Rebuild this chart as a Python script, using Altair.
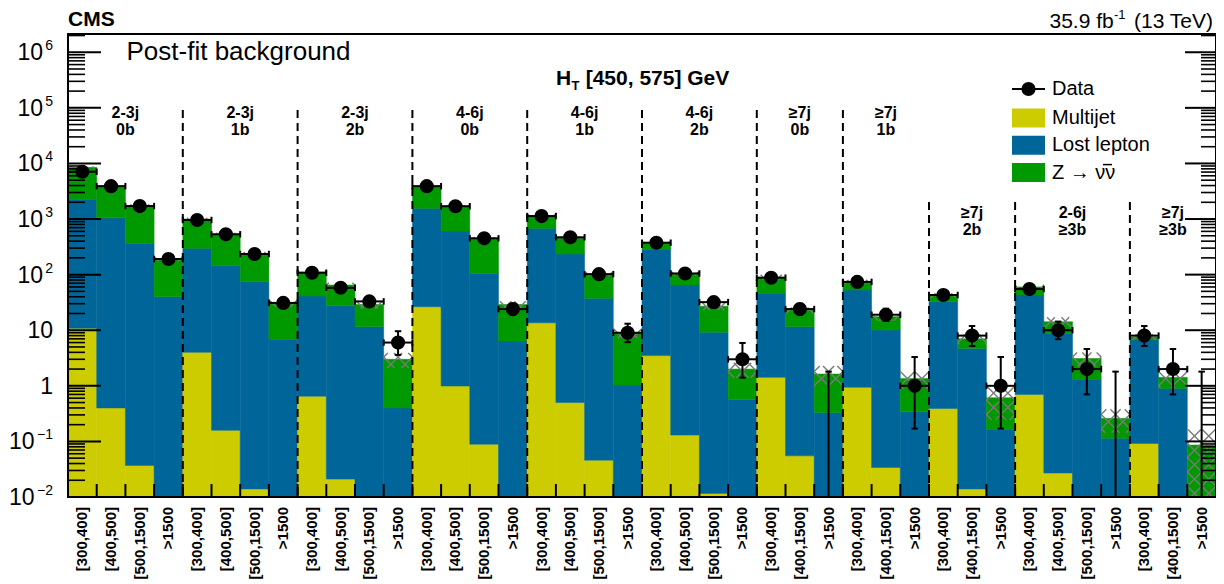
import math
import altair as alt
import pandas as pd

# ---------------- data ----------------
region_jets = ["2-3j", "2-3j", "2-3j", "4-6j", "4-6j", "4-6j", "≥7j", "≥7j", "≥7j", "2-6j", "≥7j"]
region_btags = ["0b", "1b", "2b", "0b", "1b", "2b", "0b", "1b", "2b", "≥3b", "≥3b"]
region_nbins = [4, 4, 4, 4, 4, 4, 3, 3, 3, 4, 3]

bin_labels = [
    "[300,400]", "[400,500]", "[500,1500]", ">1500",
    "[300,400]", "[400,500]", "[500,1500]", ">1500",
    "[300,400]", "[400,500]", "[500,1500]", ">1500",
    "[300,400]", "[400,500]", "[500,1500]", ">1500",
    "[300,400]", "[400,500]", "[500,1500]", ">1500",
    "[300,400]", "[400,500]", "[500,1500]", ">1500",
    "[300,400]", "[400,1500]", ">1500",
    "[300,400]", "[400,1500]", ">1500",
    "[300,400]", "[400,1500]", ">1500",
    "[300,400]", "[400,500]", "[500,1500]", ">1500",
    "[300,400]", "[400,1500]", ">1500",
]

multijet = [10.8, 0.40, 0.037, 0, 4.0, 0.158, 0.014, 0, 0.65, 0.021, 0, 0,
            26.5, 0.99, 0.089, 0, 13.6, 0.50, 0.046, 0, 3.5, 0.13, 0.0116, 0,
            1.42, 0.055, 0, 0.94, 0.034, 0, 0.39, 0.014, 0,
            0.70, 0.027, 0, 0, 0.092, 0, 0]
lost_lepton = [2250, 1050, 366, 40, 293, 145, 74.5, 6.9, 40.4, 27.6, 11.6, 0.40,
               1530, 607, 105, 6.4, 666, 234.5, 37.5, 1.03, 281.5, 64.9, 9.2, 0.57,
               44.6, 11.5, 0.33, 51.9, 10.07, 0.34, 32.2, 4.69, 0.165,
               42.3, 8.77, 1.31, 0.114, 6.6, 0.90, 0]
znunu = [6240, 2900, 1384, 150, 703, 395, 165.5, 24.1, 71, 37.4, 17.4, 2.6,
         2343, 1092, 345, 22.6, 470, 225, 64.5, 7.97, 95, 40, 17.8, 1.43,
         44, 11.4, 1.3, 22.2, 7.4, 1.02, 9.4, 2.3, 0.445,
         17, 5.4, 1.79, 0.146, 0.9, 0.52, 0.086]
# relative post-fit uncertainty of the total background (hatched band)
bkg_unc_rel = [0.04, 0.04, 0.05, 0.08, 0.05, 0.05, 0.06, 0.15, 0.08, 0.10, 0.15, 0.30,
               0.04, 0.04, 0.05, 0.15, 0.05, 0.05, 0.08, 0.20, 0.05, 0.08, 0.15, 0.30,
               0.10, 0.12, 0.40, 0.08, 0.15, 0.35, 0.10, 0.20, 0.60,
               0.10, 0.20, 0.28, 0.45, 0.12, 0.35, 0.90]
data_obs = [7100, 3900, 1710, 191, 960, 531, 235, 31, 108, 58, 33, 6,
            3900, 1700, 450, 24, 1130, 469, 102, 9, 375, 105, 32, 3,
            88, 24, 0, 74, 19, 1, 43, 8, 1,
            55, 10, 2, 0, 8, 2, 0]
err_dn = [84, 62, 41, 14, 31, 23, 15, 5.5, 10.4, 7.6, 5.7, 2.4,
          62, 41, 21, 4.9, 34, 22, 10, 2.9, 19, 10, 5.6, 1.6,
          9.4, 4.9, 0, 8.6, 4.3, 0.83, 6.5, 2.8, 0.83,
          7.4, 3.1, 1.3, 0, 2.8, 1.3, 0]
err_up = [85, 63, 42, 15, 32, 24, 16, 6.6, 11.4, 8.7, 6.8, 3.6,
          63, 42, 22, 5.9, 35, 23, 11, 4.1, 20, 11, 6.7, 2.9,
          10.4, 5.9, 1.8, 9.6, 5.4, 2.3, 7.6, 3.9, 2.3,
          8.5, 4.3, 2.6, 1.8, 3.9, 2.6, 1.8]

comp_names = ["Multijet", "Lost lepton", "Z → νν"]
comp_colors = ["#cccc00", "#006699", "#009900"]

y_exp_values = [1e6, 1e5, 1e4, 1e3, 1e2, 1e-1, 1e-2]
y_exp_text = ["6", "5", "4", "3", "2", "−1", "−2"]
y_plain_values = [10, 1]
y_plain_text = ["10", "1"]

# ---------------- layout ----------------
W, H = 1148, 463
FONT = "Liberation Sans"
YMIN, YMAX = 0.01, 2.13e6
BASE = 1e-3
NB = len(bin_labels)

xs = alt.Scale(domain=[0, NB], nice=False, zero=False)
ys = alt.Scale(type="log", domain=[YMIN, YMAX], nice=False)


def X(f):
    return alt.X(f + ":Q", scale=xs, axis=None)


def Y(f):
    return alt.Y(f + ":Q", scale=ys, axis=None)


one = pd.DataFrame({"a": [0]})

# stacked background
rows = []
totals = []
for i in range(NB):
    t1 = multijet[i]
    t2 = t1 + lost_lepton[i]
    t3 = t2 + znunu[i]
    totals.append(t3)
    if multijet[i] > 0:
        rows.append(dict(x0=i, x1=i + 1, comp=comp_names[0], lo=BASE, hi=t1))
    if lost_lepton[i] > 0:
        rows.append(dict(x0=i, x1=i + 1, comp=comp_names[1], lo=max(t1, BASE), hi=t2))
    if znunu[i] > 0:
        rows.append(dict(x0=i, x1=i + 1, comp=comp_names[2], lo=max(t2, BASE), hi=t3))
stack = pd.DataFrame(rows)

bars = alt.Chart(stack).mark_rect(clip=True, strokeWidth=0.5).encode(
    x=X("x0"), x2="x1:Q", y=Y("lo"), y2="hi:Q",
    fill=alt.Fill("comp:N", scale=alt.Scale(domain=comp_names, range=comp_colors), legend=None),
    stroke=alt.Stroke("comp:N", scale=alt.Scale(domain=comp_names, range=comp_colors), legend=None),
)

# hatched uncertainty band (cross-hatch drawn as 45-degree segments in pixel space)
ppb = W / NB
ppd = H / math.log10(YMAX / YMIN)
umin = math.log10(YMIN) * ppd
step = ppb / 2
segs = []
for i in range(NB):
    r = bkg_unc_rel[i]
    lo_v = totals[i] * (1 - r)
    hi_v = totals[i] * (1 + r)
    ul = max(math.log10(lo_v) * ppd, umin) if lo_v > 0 else umin
    uh = math.log10(hi_v) * ppd
    a, b = i * ppb, (i + 1) * ppb
    for sgn in (1, -1):
        if sgn == 1:
            cmin, cmax = ul - b, uh - a
        else:
            cmin, cmax = ul + a, uh + b
        for k in range(math.ceil(cmin / step), math.floor(cmax / step) + 1):
            c = k * step
            if sgn == 1:
                x1, x2 = max(a, ul - c), min(b, uh - c)
            else:
                x1, x2 = max(a, c - uh), min(b, c - ul)
            if x2 - x1 > 0.3:
                segs.append(dict(hx1=x1 / ppb, hx2=x2 / ppb,
                                 hy1=10 ** ((sgn * x1 + c) / ppd), hy2=10 ** ((sgn * x2 + c) / ppd)))
hatch = alt.Chart(pd.DataFrame(segs)).mark_rule(color="#7a7a7a", strokeWidth=1.4, clip=True).encode(
    x=X("hx1"), x2="hx2:Q", y=Y("hy1"), y2="hy2:Q")

# data points
pts = pd.DataFrame({
    "xc": [i + 0.5 for i in range(NB)],
    "x0": list(range(NB)),
    "x1": [i + 1 for i in range(NB)],
    "n": data_obs,
    "lo": [max(d - e, BASE) for d, e in zip(data_obs, err_dn)],
    "hi": [d + e for d, e in zip(data_obs, err_up)],
})
nz = pts[pts["n"] > 0]

vbar = alt.Chart(pts).mark_rule(color="black", strokeWidth=2, clip=True).encode(
    x=X("xc"), y=Y("lo"), y2="hi:Q")
hbar = alt.Chart(nz).mark_rule(color="black", strokeWidth=2).encode(
    x=X("x0"), x2="x1:Q", y=Y("n"))
cap_style = dict(filled=False, color="black", strokeWidth=2, opacity=1, size=42)
cap_top = alt.Chart(pts).mark_point(shape="M-1,0L1,0", **cap_style).encode(x=X("xc"), y=Y("hi"))
cap_bot = alt.Chart(nz).mark_point(shape="M-1,0L1,0", **cap_style).encode(x=X("xc"), y=Y("lo"))
cap_l = alt.Chart(nz).mark_point(shape="M0,-1L0,1", **cap_style).encode(x=X("x0"), y=Y("n"))
cap_r = alt.Chart(nz).mark_point(shape="M0,-1L0,1", **cap_style).encode(x=X("x1"), y=Y("n"))
dots = alt.Chart(nz).mark_circle(size=200, color="black", opacity=1).encode(x=X("xc"), y=Y("n"))

# region dividers and labels
bounds, starts, s = [], [], 0
for n in region_nbins:
    starts.append(s)
    s += n
    bounds.append(s)
upper_idx = list(range(8))
div_df = pd.DataFrame({"b": bounds[:-1], "upper": [(k + 1) in upper_idx for k in range(len(bounds) - 1)]})
div_up = alt.Chart(div_df[div_df.upper]).mark_rule(color="black", strokeWidth=2, strokeDash=[8, 5]).encode(
    x=X("b"), y=alt.value(76), y2=alt.value(H))
div_lo = alt.Chart(div_df[~div_df.upper]).mark_rule(color="black", strokeWidth=2, strokeDash=[8, 5]).encode(
    x=X("b"), y=alt.value(168), y2=alt.value(H))

reg_df = pd.DataFrame({
    "xc": [st + n / 2 for st, n in zip(starts, region_nbins)],
    "l1": region_jets, "l2": region_btags,
    "upper": [k in upper_idx for k in range(len(region_nbins))],
})
reg_text = dict(font=FONT, fontSize=16, fontWeight="bold", color="black", align="center", baseline="middle")
reg_layers = []
for flag, y1, y2 in [(True, 78.5, 96), (False, 178.5, 196)]:
    d = reg_df[reg_df.upper == flag]
    reg_layers.append(alt.Chart(d).mark_text(**reg_text).encode(x=X("xc"), y=alt.value(y1), text="l1:N"))
    reg_layers.append(alt.Chart(d).mark_text(**reg_text).encode(x=X("xc"), y=alt.value(y2), text="l2:N"))

# x bin labels
xl_df = pd.DataFrame({"xc": [i + 0.5 for i in range(NB)], "lab": bin_labels})
xlabels = alt.Chart(xl_df).mark_text(font=FONT, fontSize=15, fontWeight="bold", angle=270,
                                      align="right", baseline="middle", color="black").encode(
    x=X("xc"), y=alt.value(H + 10), text="lab:N")

# axis ticks
dec_df = pd.DataFrame({"v": [10.0 ** e for e in range(-2, 7)]})
minor_df = pd.DataFrame({"v": [m * 10.0 ** e for e in range(-2, 7) for m in range(2, 10) if m * 10.0 ** e < YMAX]})
edge_df = pd.DataFrame({"e": list(range(1, NB))})
tick_layers = [
    alt.Chart(dec_df).mark_rule(color="black", strokeWidth=2).encode(y=Y("v"), x=alt.value(0), x2=alt.value(33)),
    alt.Chart(minor_df).mark_rule(color="black", strokeWidth=1.6).encode(y=Y("v"), x=alt.value(0), x2=alt.value(17)),
    alt.Chart(dec_df).mark_rule(color="black", strokeWidth=2).encode(y=Y("v"), x=alt.value(W - 31), x2=alt.value(W)),
    alt.Chart(minor_df).mark_rule(color="black", strokeWidth=1.6).encode(y=Y("v"), x=alt.value(W - 15), x2=alt.value(W)),
    alt.Chart(edge_df).mark_rule(color="black", strokeWidth=2).encode(x=X("e"), y=alt.value(H - 13), y2=alt.value(H)),
]

# y tick labels
ye_df = pd.DataFrame({"v": y_exp_values, "e": y_exp_text, "neg": [t.startswith("−") for t in y_exp_text]})
yp_df = pd.DataFrame({"v": y_plain_values, "t": y_plain_text})
lab = dict(font=FONT, color="black", baseline="middle", align="right")
ylab_layers = [
    alt.Chart(ye_df).mark_text(fontSize=14, dy=-6, **lab).encode(y=Y("v"), x=alt.value(-15), text="e:N"),
    alt.Chart(ye_df[~ye_df.neg]).mark_text(fontSize=23, dy=1, **lab).encode(y=Y("v"), x=alt.value(-25), text=alt.value("10")),
    alt.Chart(ye_df[ye_df.neg]).mark_text(fontSize=23, dy=1, **lab).encode(y=Y("v"), x=alt.value(-33.5), text=alt.value("10")),
    alt.Chart(yp_df).mark_text(fontSize=23, dy=1, **lab).encode(y=Y("v"), x=alt.value(-15), text="t:N"),
]

# frame
frame = alt.Chart(one).mark_rect(fillOpacity=0, stroke="black", strokeWidth=2).encode(
    x=alt.value(0), x2=alt.value(W), y=alt.value(0), y2=alt.value(H))

# legend (drawn by hand to mimic ROOT style)
LX0, LX1, LTX = 944, 977, 984
leg_layers = [
    alt.Chart(one).mark_rule(color="black", strokeWidth=2).encode(
        x=alt.value(LX0), x2=alt.value(LX1), y=alt.value(55)),
    alt.Chart(one).mark_circle(size=200, color="black", opacity=1).encode(
        x=alt.value((LX0 + LX1) / 2), y=alt.value(55)),
    alt.Chart(one).mark_text(font=FONT, fontSize=20, align="left", baseline="middle", color="black").encode(
        x=alt.value(LTX), y=alt.value(55), text=alt.value("Data")),
]
for k, (name, col) in enumerate(zip(comp_names, comp_colors)):
    yc = 84 + k * 27.3
    leg_layers.append(alt.Chart(one).mark_rect(color=col).encode(
        x=alt.value(LX0), x2=alt.value(LX1), y=alt.value(yc - 9.5), y2=alt.value(yc + 9.5)))
    leg_layers.append(alt.Chart(one).mark_text(font=FONT, fontSize=20, align="left", baseline="middle",
                                               color="black").encode(
        x=alt.value(LTX), y=alt.value(yc), text=alt.value(name)))
# bar over the second nu (anti-neutrino)
yz = 84 + 2 * 27.3
leg_layers.append(alt.Chart(one).mark_rule(color="black", strokeWidth=1.5).encode(
    x=alt.value(LTX + 51), x2=alt.value(LTX + 60), y=alt.value(yz - 8)))

# annotations
ann = [
    alt.Chart(one).mark_text(font=FONT, fontSize=21, fontWeight="bold", align="left", baseline="middle",
                             color="black").encode(x=alt.value(0), y=alt.value(-14), text=alt.value("CMS")),
    alt.Chart(one).mark_text(font=FONT, fontSize=26, align="left", baseline="middle", color="black").encode(
        x=alt.value(58.5), y=alt.value(18), text=alt.value("Post-fit background")),
]
lumi_style = dict(font=FONT, align="right", baseline="middle", color="black")
ann += [
    alt.Chart(one).mark_text(fontSize=21, **lumi_style).encode(
        x=alt.value(W - 3), y=alt.value(-12.5), text=alt.value("(13 TeV)")),
    alt.Chart(one).mark_text(fontSize=13, **lumi_style).encode(
        x=alt.value(W - 3 - 81.7 - 5.8), y=alt.value(-19), text=alt.value("-1")),
    alt.Chart(one).mark_text(fontSize=21, **lumi_style).encode(
        x=alt.value(W - 3 - 81.7 - 5.8 - 11.8), y=alt.value(-12.5), text=alt.value("35.9 fb")),
]
ht_df = pd.DataFrame({"xc": [NB / 2]})
ht_style = dict(font=FONT, fontWeight="bold", align="left", baseline="middle", color="black")
ann += [
    alt.Chart(ht_df).mark_text(fontSize=21, dx=-86, **ht_style).encode(x=X("xc"), y=alt.value(45), text=alt.value("H")),
    alt.Chart(ht_df).mark_text(fontSize=13, dx=-70.5, dy=7, **ht_style).encode(x=X("xc"), y=alt.value(45), text=alt.value("T")),
    alt.Chart(ht_df).mark_text(fontSize=21, dx=-56.3, **ht_style).encode(x=X("xc"), y=alt.value(45), text=alt.value("[450, 575] GeV")),
]

chart = alt.layer(
    bars, hatch, div_up, div_lo, *tick_layers, vbar, hbar, cap_top, cap_bot, cap_l, cap_r, dots,
    *reg_layers, xlabels, *ylab_layers, frame, *leg_layers, *ann,
).properties(
    width=W, height=H,
    padding={"left": 60, "top": 26, "right": 0, "bottom": 86},
    autosize=alt.AutoSizeParams(type="none"),
).configure_view(stroke=None)

chart.save("out.html", embed_options={"renderer": "svg", "actions": False})
